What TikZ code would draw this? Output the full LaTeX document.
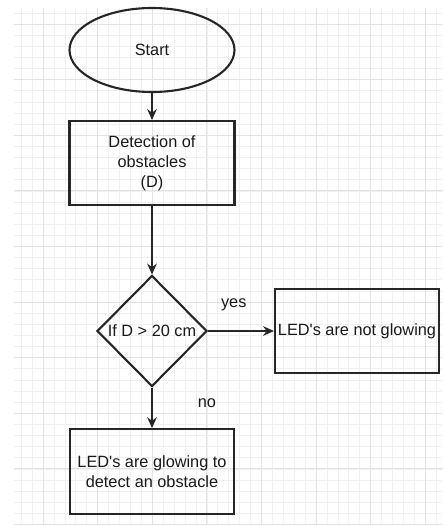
\documentclass[tikz,border=0pt]{standalone}
\usepackage{fontspec}
\setmainfont{Liberation Sans}
\usetikzlibrary{shapes.geometric,arrows.meta}

\begin{document}
\begin{tikzpicture}[
  txt/.style={font=\fontsize{11.6}{14.2}\selectfont,text=black!90},
  block/.style={txt,draw=black!85,line width=1.5pt,minimum width=4.1cm,minimum height=2.1cm,align=center,inner sep=0pt},
  flowarrow/.style={draw=black!85,line width=1.5pt,-{Stealth[length=0.27cm,width=0.24cm]}}
]

\useasboundingbox (0,0) rectangle (11.075,-13.125);

% background grid
\begin{scope}[shift={(1.075,-0.6)}]
\draw[black!6,line width=0.4pt,step={(0.273,0.278)}] (-0.725,0.4) grid (10,-12.525);
\draw[black!11,line width=0.5pt,step={(1.365,1.39)}] (-0.725,0.4) grid (10,-12.525);
\end{scope}

% flowchart nodes
\node[ellipse,txt,draw=black!85,line width=1.5pt,minimum width=4.125cm,minimum height=2.1cm] (start) at (3.8,-1.25) {Start};
\node[block,minimum width=4.125cm] (detect) at (3.8,-4.075) {Detection of\\obstacles\\(D)};
\node[diamond,txt,draw=black!85,line width=1.5pt,aspect=1,inner sep=0pt,minimum width=2.75cm,minimum height=2.775cm] (check) at (3.8,-8.275) {If D > 20 cm};
\node[block] (ledoff) at (8.925,-8.275) {LED\textquotesingle s are not glowing};
\node[block,minimum height=2.125cm] (ledon) at (3.8,-11.79) {LED\textquotesingle s are glowing to\\detect an obstacle};

% connectors
\draw[flowarrow] (start) -- (detect);
\draw[flowarrow] (detect) -- (check);
\draw[flowarrow] (check) -- node[txt,pos=0.39,yshift=0.65cm] (yes) {yes} (ledoff);
\draw[flowarrow] (check) -- node[txt,pos=0.38,xshift=1.375cm] (no) {no} (ledon);

\end{tikzpicture}
\end{document}
